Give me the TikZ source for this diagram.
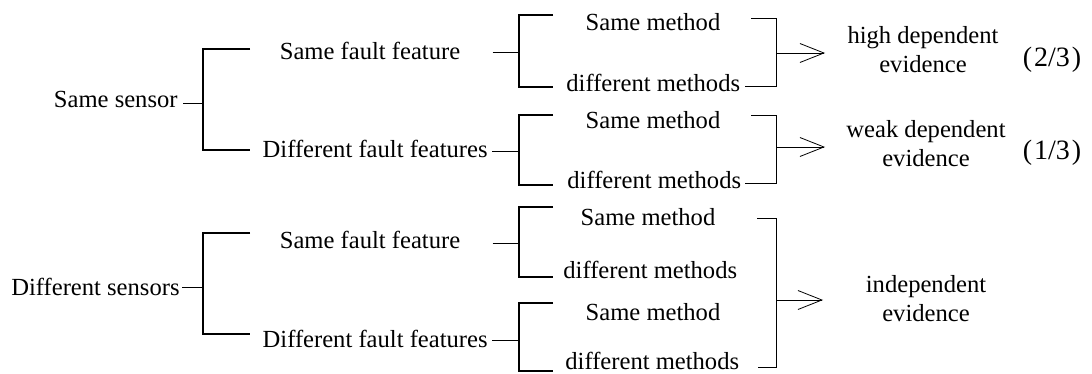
\documentclass[tikz,border=0pt]{standalone}
\usepackage{fontspec}
\setmainfont{Liberation Serif}
\usetikzlibrary{arrows.meta}

\tikzset{
    lbl/.style={inner sep=0pt, font=\fontsize{12.3}{14.5}\selectfont},
    frac/.style={inner sep=0pt, font=\fontsize{14}{16}\selectfont},
    brace/.style={line width=0.6pt},
    stub/.style={line width=0.4pt},
    imply/.style={line width=0.4pt, -{Straight Barb[length=12pt,width=9.5pt]}},
}

\begin{document}
\begin{tikzpicture}[x=0.5pt,y=-0.5pt]
    \useasboundingbox (0,0) rectangle (1092,374);

    % sensors
    \node[lbl, anchor=base east] (ssame) at (178,108) {Same sensor};
    \node[lbl, anchor=base east] (sdiff) at (180,295) {Different sensors};

    % fault features
    \node[lbl, anchor=base] (fsame1) at (370,60) {Same fault feature};
    \node[lbl, anchor=base east] (fdiff1) at (488,157) {Different fault features};
    \node[lbl, anchor=base] (fsame2) at (370,248) {Same fault feature};
    \node[lbl, anchor=base east] (fdiff2) at (488,347) {Different fault features};

    % methods
    \node[lbl, anchor=base] (msame1) at (653,31) {Same method};
    \node[lbl, anchor=base west] (mdiff1) at (566,91) {different methods};
    \node[lbl, anchor=base] (msame2) at (653,128) {Same method};
    \node[lbl, anchor=base west] (mdiff2) at (567,188) {different methods};
    \node[lbl, anchor=base] (msame3) at (648,225) {Same method};
    \node[lbl, anchor=base west] (mdiff3) at (563,278) {different methods};
    \node[lbl, anchor=base] (msame4) at (653,320) {Same method};
    \node[lbl, anchor=base west] (mdiff4) at (565,369) {different methods};

    % evidence
    \node[lbl, align=center] (ehigh) at (923,50) {high dependent\\evidence};
    \node[lbl, align=center] (eweak) at (926,144) {weak dependent\\evidence};
    \node[lbl, align=center] (eind) at (926,299) {independent\\evidence};
    \node[frac, anchor=base] (phigh) at (1052,67) {(\kern1pt2/3\kern1pt)};
    \node[frac, anchor=base] (pweak) at (1052,159) {(\kern1pt1/3\kern1pt)};

    % first split
    \coordinate (k1) at (203,103);
    \coordinate (k1t) at (250,49);
    \coordinate (k1b) at (250,150);
    \draw[stub] ([xshift=2.5pt]ssame.mid east |- k1) -- (k1);
    \draw[brace] (k1t) -| (k1) |- (k1b);

    \coordinate (k2) at (203,287);
    \coordinate (k2t) at (250,233);
    \coordinate (k2b) at (250,334);
    \draw[stub] ([xshift=1pt]sdiff.mid east |- k2) -- (k2);
    \draw[brace] (k2t) -| (k2) |- (k2b);

    % second split
    \coordinate (j1) at (519,52);
    \coordinate (j1t) at (553,15);
    \coordinate (j1b) at (553,87);
    \draw[stub] ([xshift=16pt]fsame1.mid east |- j1) -- (j1);
    \draw[brace] (j1t) -| (j1) |- (j1b);

    \coordinate (j2) at (519,151);
    \coordinate (j2t) at (553,115);
    \coordinate (j2b) at (553,185);
    \draw[stub] ([xshift=2pt]fdiff1.mid east |- j2) -- (j2);
    \draw[brace] (j2t) -| (j2) |- (j2b);

    \coordinate (j3) at (519,243);
    \coordinate (j3t) at (553,207);
    \coordinate (j3b) at (553,277);
    \draw[stub] ([xshift=16pt]fsame2.mid east |- j3) -- (j3);
    \draw[brace] (j3t) -| (j3) |- (j3b);

    \coordinate (j4) at (519,340);
    \coordinate (j4t) at (553,303);
    \coordinate (j4b) at (553,371);
    \draw[stub] ([xshift=2pt]fdiff2.mid east |- j4) -- (j4);
    \draw[brace] (j4t) -| (j4) |- (j4b);

    % merging into evidence
    \coordinate (r1) at (776,53);
    \coordinate (r1t) at (751,18);
    \coordinate (a1) at (825,53);
    \draw[stub] (r1t) -| (r1) |- ([xshift=2pt]mdiff1.mid east);
    \draw[imply] (r1) -- (a1);

    \coordinate (r2) at (776,147);
    \coordinate (r2t) at (751,115);
    \coordinate (a2) at (825,147);
    \draw[stub] (r2t) -| (r2) |- ([xshift=1.5pt]mdiff2.mid east);
    \draw[imply] (r2) -- (a2);

    \coordinate (r3) at (776,300);
    \coordinate (r3t) at (757,218);
    \coordinate (a3) at (823,300);
    \draw[stub] (r3t) -| (r3) |- ([xshift=9pt,yshift=-1.5pt]mdiff4.mid east);
    \draw[imply] (r3) -- (a3);
\end{tikzpicture}
\end{document}
